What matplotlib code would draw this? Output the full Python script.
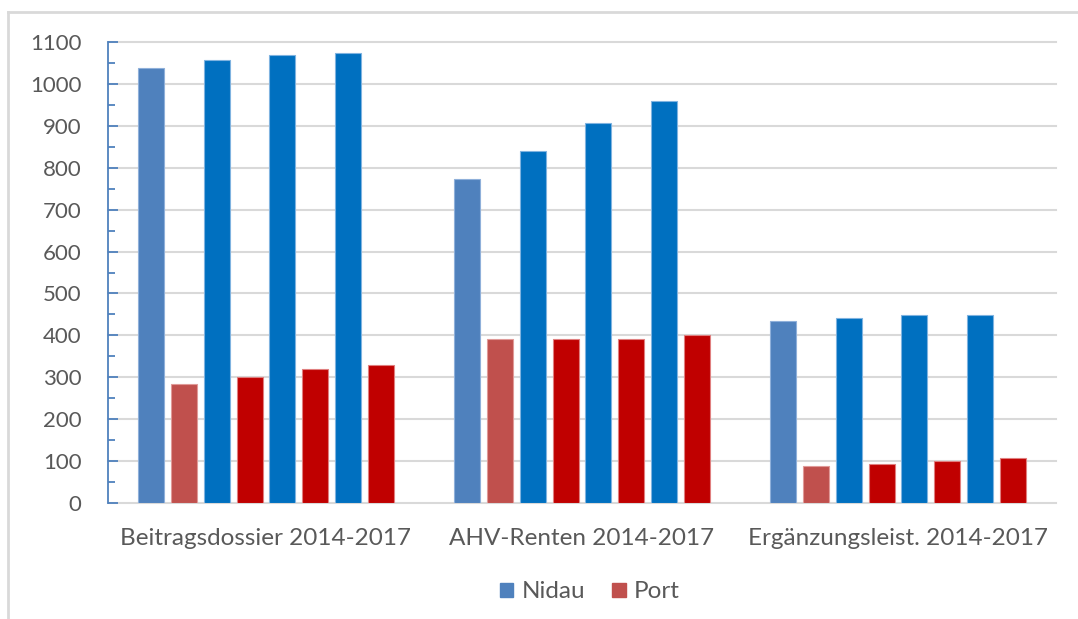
import matplotlib
matplotlib.use('Agg')
import matplotlib.pyplot as plt
from matplotlib.patches import Patch
from matplotlib.ticker import MultipleLocator
from matplotlib.lines import Line2D
import numpy as np

categories = ['Beitragsdossier 2014-2017', 'AHV-Renten 2014-2017', 'Ergänzungsleist. 2014-2017']
years = ['2014', '2015', '2016', '2017']
# rows = categories, columns = years
nidau = [[1038, 1057, 1070, 1073],
         [774, 840, 906, 959],
         [434, 441, 448, 448]]
port = [[283, 301, 319, 329],
        [391, 391, 391, 401],
        [88, 94, 101, 107]]

c_nidau = ['#4F81BD', '#0070C0', '#0070C0', '#0070C0']
c_port = ['#C0504D', '#C00000', '#C00000', '#C00000']
e_nidau = ['#8FB0DA', '#7FB3E0', '#7FB3E0', '#7FB3E0']
e_port = ['#E09A98', '#E07F7F', '#E07F7F', '#E07F7F']

plt.rcParams['font.family'] = ['Lato', 'DejaVu Sans']
txt = '#595959'

fig = plt.figure(figsize=(10.78, 6.19), dpi=100)
ax = fig.add_axes([108/1078, 1-503/619, 948/1078, 461/619])

x = np.arange(len(categories))
step = 0.104
w = 0.082
for i in range(len(years)):
    nv = [row[i] for row in nidau]
    pv = [row[i] for row in port]
    ax.bar(x + (2*i - 3.5)*step, nv, w, color=c_nidau[i], edgecolor=e_nidau[i], linewidth=0.8, zorder=3)
    ax.bar(x + (2*i + 1 - 3.5)*step, pv, w, color=c_port[i], edgecolor=e_port[i], linewidth=0.8, zorder=3)

ax.set_xlim(-0.5, 2.5)
ax.set_ylim(0, 1100)
ax.yaxis.set_major_locator(MultipleLocator(100))
ax.yaxis.set_minor_locator(MultipleLocator(50))
ax.grid(axis='y', which='major', color='#D9D9D9', lw=1.5, zorder=0)
for g in ax.get_ygridlines():
    g.set_clip_on(False)
for s in ['top', 'right', 'bottom']:
    ax.spines[s].set_visible(False)
ax.spines['left'].set_color('#4F81BD')
ax.spines['left'].set_linewidth(1.3)
ax.tick_params(axis='y', which='major', direction='in', length=7, width=1.3, color='#4F81BD',
               labelsize=16, labelcolor=txt, pad=19)
ax.tick_params(axis='y', which='minor', direction='in', length=5, width=1.3, color='#4F81BD')
ax.set_xticks(x)
ax.set_xticklabels(categories)
ax.tick_params(axis='x', length=0, labelsize=17.5, labelcolor=txt, pad=18)

handles = [Patch(color='#4F81BD', label='Nidau'), Patch(color='#C0504D', label='Port')]
fig.legend(handles=handles, loc='center', bbox_to_anchor=(590/1078, 1-592/619), ncol=2,
           frameon=False, fontsize=17.5, labelcolor=txt, handlelength=0.55, handleheight=0.55,
           handletextpad=0.35, columnspacing=1.1)

# outer chart border (partly cut off in the reference)
fig.add_artist(Line2D([8/1078, 1], [1-12/619, 1-12/619], color='#D9D9D9', lw=2))
fig.add_artist(Line2D([8/1078, 8/1078], [1-12/619, 0], color='#D9D9D9', lw=2))

plt.savefig('out.png', dpi=100)
